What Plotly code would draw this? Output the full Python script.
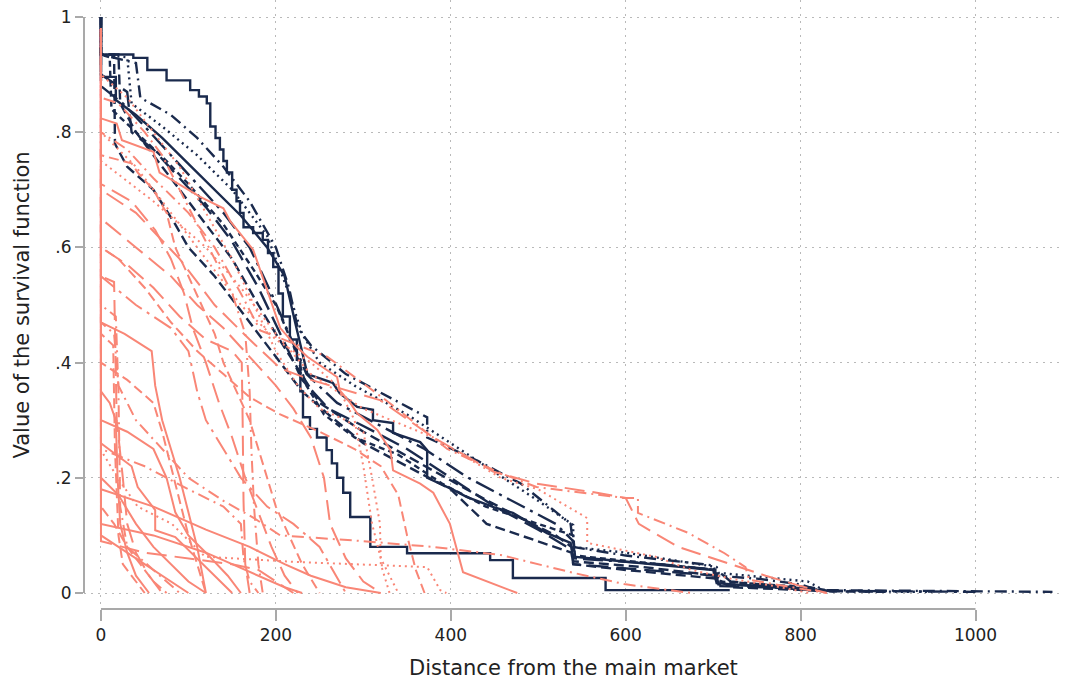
import plotly.graph_objects as go

# ---------------- data ----------------
NAVY = "#1a2a4d"
SALMON = "#f98676"

x_ticks = [0, 200, 400, 600, 800, 1000]
y_ticks = [0, 0.2, 0.4, 0.6, 0.8, 1.0]
y_ticklabels = ["0", ".2", ".4", ".6", ".8", "1"]

# navy group
n1_x = [0, 0, 22, 37, 53, 75, 94, 102, 112, 121, 125, 131, 136, 140, 144, 150, 155, 159, 163, 174, 185, 191, 197, 203, 208, 216, 224, 228, 231, 239, 247, 258, 264, 270, 277, 285, 308, 308, 350, 445, 471, 471, 577, 577, 719]
n1_y = [1, 0.935, 0.935, 0.929, 0.908, 0.89, 0.89, 0.873, 0.862, 0.85, 0.81, 0.79, 0.77, 0.75, 0.73, 0.70, 0.68, 0.66, 0.635, 0.625, 0.613, 0.59, 0.566, 0.52, 0.48, 0.44, 0.405, 0.35, 0.305, 0.285, 0.27, 0.248, 0.225, 0.2, 0.174, 0.132, 0.12, 0.08, 0.069, 0.057, 0.052, 0.026, 0.026, 0.005, 0.005]

n2_x = [0, 0, 17, 17, 40, 70, 100, 130, 160, 190, 210, 222, 230, 236, 265, 273, 293, 311, 311, 334, 334, 365, 373, 373, 403, 418, 449, 471, 510, 537, 540, 620, 700, 704, 780, 830]
n2_y = [1, 0.896, 0.896, 0.856, 0.83, 0.79, 0.745, 0.70, 0.655, 0.60, 0.55, 0.47, 0.42, 0.38, 0.365, 0.347, 0.323, 0.318, 0.30, 0.295, 0.278, 0.262, 0.248, 0.20, 0.179, 0.167, 0.149, 0.139, 0.104, 0.087, 0.063, 0.052, 0.04, 0.017, 0.009, 0.003]

n3_x = [0, 0, 20, 22, 40, 60, 90, 120, 150, 180, 200, 225, 250, 300, 370, 430, 480, 520, 538, 540, 620, 704, 706, 800, 830, 900]
n3_y = [1, 0.935, 0.935, 0.85, 0.80, 0.76, 0.70, 0.64, 0.58, 0.50, 0.45, 0.39, 0.33, 0.28, 0.22, 0.17, 0.13, 0.10, 0.08, 0.055, 0.045, 0.03, 0.015, 0.01, 0.003, 0.002]

n4_x = [0, 0, 40, 45, 80, 110, 140, 170, 200, 215, 225, 240, 280, 330, 373, 373, 430, 480, 537, 540, 600, 700, 704, 750, 800, 820, 1088]
n4_y = [1, 0.935, 0.92, 0.86, 0.83, 0.79, 0.74, 0.68, 0.60, 0.53, 0.46, 0.43, 0.38, 0.34, 0.305, 0.27, 0.23, 0.19, 0.12, 0.08, 0.065, 0.048, 0.03, 0.025, 0.015, 0.005, 0.002]

n5_x = [0, 0, 30, 35, 70, 110, 150, 190, 215, 230, 250, 290, 350, 400, 450, 500, 540, 540, 600, 704, 706, 808, 829, 950]
n5_y = [1, 0.935, 0.93, 0.85, 0.81, 0.76, 0.70, 0.62, 0.52, 0.45, 0.40, 0.36, 0.31, 0.26, 0.21, 0.16, 0.118, 0.08, 0.07, 0.045, 0.035, 0.02, 0.003, 0.002]

n6_x = [0, 0, 30, 35, 60, 90, 120, 150, 180, 205, 230, 260, 300, 350, 400, 450, 500, 538, 540, 620, 704, 706, 800, 830]
n6_y = [1, 0.90, 0.87, 0.80, 0.77, 0.72, 0.67, 0.61, 0.53, 0.45, 0.37, 0.32, 0.29, 0.25, 0.20, 0.15, 0.11, 0.075, 0.05, 0.04, 0.03, 0.012, 0.008, 0.002]

n7_x = [0, 0, 15, 16, 30, 60, 85, 100, 130, 160, 185, 200, 230, 260, 300, 350, 400, 441, 480, 538, 540, 600, 704, 720, 840]
n7_y = [1, 0.935, 0.935, 0.78, 0.74, 0.70, 0.64, 0.60, 0.55, 0.49, 0.44, 0.41, 0.35, 0.31, 0.26, 0.22, 0.18, 0.12, 0.10, 0.07, 0.05, 0.04, 0.025, 0.01, 0.003]

n8_x = [0, 0, 25, 50, 80, 110, 140, 170, 195, 215, 235, 270, 320, 370, 420, 470, 520, 540, 542, 640, 704, 720, 830, 1000]
n8_y = [1, 0.88, 0.85, 0.81, 0.76, 0.71, 0.66, 0.60, 0.52, 0.45, 0.38, 0.33, 0.29, 0.25, 0.20, 0.16, 0.12, 0.09, 0.06, 0.05, 0.04, 0.02, 0.004, 0.002]

n9_x = [0, 0, 10, 12, 40, 75, 100, 140, 175, 200, 220, 235, 255, 290, 340, 390, 440, 500, 540, 542, 640, 704, 706, 810, 840]
n9_y = [1, 0.935, 0.93, 0.84, 0.80, 0.75, 0.71, 0.64, 0.56, 0.50, 0.43, 0.36, 0.31, 0.27, 0.24, 0.19, 0.15, 0.12, 0.10, 0.065, 0.05, 0.04, 0.02, 0.01, 0.002]

# dash patterns (Stata-like)
SOLID = "solid"
DASH = "10px,5px"
LONGDASH = "20px,8px"
DOT = "2px,4px"
DASHDOT = "12px,5px,2px,5px"
LONGDASHDOT = "20px,6px,3px,6px"
SHORTDASH = "6px,4px"

navy_series = [
    (SOLID, "hv", n1_x, n1_y),
    (SOLID, "linear", n2_x, n2_y),
    (DASH, "linear", n3_x, n3_y),
    (DASHDOT, "linear", n4_x, n4_y),
    (DOT, "linear", n5_x, n5_y),
    (LONGDASH, "linear", n6_x, n6_y),
    (DASH, "linear", n7_x, n7_y),
    (LONGDASHDOT, "linear", n8_x, n8_y),
    (SHORTDASH, "linear", n9_x, n9_y),
]

# salmon group
s1_x = [0, 0, 18, 24, 60, 67, 113, 140, 148, 174, 205, 224, 236, 270, 273, 285, 293, 316, 331, 334, 365, 380, 399, 407, 414, 476]
s1_y = [0.98, 0.824, 0.815, 0.786, 0.766, 0.73, 0.688, 0.668, 0.645, 0.596, 0.46, 0.427, 0.41, 0.375, 0.352, 0.33, 0.312, 0.283, 0.248, 0.213, 0.19, 0.174, 0.12, 0.075, 0.036, 0.0]

s2_x = [0, 0, 30, 60, 100, 130, 160, 182, 259, 330, 396, 457, 498, 598, 614, 614, 672, 713, 737, 741, 790, 830]
s2_y = [0.98, 0.80, 0.77, 0.72, 0.66, 0.60, 0.52, 0.456, 0.41, 0.33, 0.25, 0.208, 0.184, 0.165, 0.165, 0.139, 0.104, 0.069, 0.045, 0.023, 0.01, 0.0]

s3_x = [0, 0, 40, 90, 130, 170, 205, 240, 319, 380, 450, 498, 567, 600, 615, 660, 720, 760, 800, 830]
s3_y = [0.98, 0.70, 0.66, 0.58, 0.50, 0.44, 0.39, 0.37, 0.335, 0.27, 0.21, 0.19, 0.174, 0.165, 0.12, 0.08, 0.05, 0.03, 0.012, 0.0]

s4_x = [0, 0, 60, 120, 160, 200, 240, 300, 380, 457, 500, 556, 556, 634, 675, 720, 770, 810]
s4_y = [0.98, 0.75, 0.68, 0.60, 0.53, 0.45, 0.38, 0.32, 0.27, 0.20, 0.18, 0.13, 0.087, 0.063, 0.04, 0.025, 0.012, 0.0]

s5_x = [0, 0, 20, 50, 80, 110, 140, 170, 205, 250, 290, 320, 340, 350, 360, 370]
s5_y = [0.98, 0.60, 0.58, 0.53, 0.47, 0.42, 0.38, 0.34, 0.31, 0.28, 0.25, 0.22, 0.17, 0.10, 0.04, 0.0]

s6_x = [0, 0, 15, 20, 40, 70, 100, 140, 175, 205, 300, 380, 457, 540, 600, 675]
s6_y = [0.98, 0.47, 0.45, 0.36, 0.30, 0.25, 0.20, 0.16, 0.13, 0.10, 0.09, 0.08, 0.066, 0.035, 0.015, 0.0]

s7_x = [0, 0, 19, 42, 81, 119, 222, 373, 388, 395]
s7_y = [0.98, 0.248, 0.20, 0.15, 0.12, 0.063, 0.054, 0.045, 0.005, 0.0]

s8_x = [0, 0, 35, 42, 62, 62, 85, 110, 130, 150]
s8_y = [0.98, 0.26, 0.22, 0.184, 0.144, 0.109, 0.097, 0.06, 0.03, 0.0]

s9_x = [0, 0, 15, 18, 25, 30, 40, 55, 70]
s9_y = [0.98, 0.55, 0.54, 0.30, 0.20, 0.12, 0.07, 0.03, 0.0]

s10_x = [0, 0, 17, 20, 22, 30, 60, 90]
s10_y = [0.98, 0.50, 0.48, 0.35, 0.15, 0.08, 0.04, 0.0]

s11_x = [0, 0, 14, 16, 20, 25, 40, 50]
s11_y = [0.98, 0.45, 0.43, 0.25, 0.10, 0.05, 0.02, 0.0]

s12_x = [0, 0, 27, 58, 62, 70, 80, 90, 100, 110, 120]
s12_y = [0.98, 0.47, 0.45, 0.42, 0.36, 0.30, 0.25, 0.20, 0.14, 0.08, 0.0]

s13_x = [0, 0, 35, 62, 80, 95, 105, 120, 135, 150, 165, 180, 195, 210, 225]
s13_y = [0.98, 0.71, 0.68, 0.63, 0.58, 0.52, 0.46, 0.40, 0.33, 0.27, 0.20, 0.14, 0.08, 0.03, 0.0]

s14_x = [0, 0, 35, 42, 60, 75, 85, 100, 115, 130, 140, 155, 170, 180, 190, 200, 215, 230, 250]
s14_y = [0.98, 0.76, 0.746, 0.73, 0.70, 0.66, 0.60, 0.55, 0.50, 0.45, 0.40, 0.35, 0.30, 0.25, 0.20, 0.15, 0.10, 0.05, 0.0]

s15_x = [0, 0, 30, 60, 90, 120, 150, 175, 200, 225, 250, 280, 300, 310, 319, 320, 330]
s15_y = [0.98, 0.90, 0.86, 0.80, 0.74, 0.66, 0.58, 0.50, 0.42, 0.36, 0.32, 0.30, 0.28, 0.20, 0.12, 0.05, 0.0]

s16_x = [0, 0, 20, 50, 70, 90, 110, 130, 150, 165, 170, 172, 175, 180, 185]
s16_y = [0.98, 0.86, 0.85, 0.80, 0.76, 0.70, 0.64, 0.58, 0.52, 0.45, 0.35, 0.25, 0.15, 0.05, 0.0]

s17_x = [0, 0, 30, 60, 90, 120, 150, 161, 162, 163, 165, 170]
s17_y = [0.98, 0.60, 0.57, 0.53, 0.48, 0.44, 0.42, 0.40, 0.30, 0.16, 0.05, 0.0]

s18_x = [0, 0, 10, 17, 19, 22, 30, 40, 55]
s18_y = [0.98, 0.35, 0.33, 0.30, 0.20, 0.12, 0.07, 0.03, 0.0]

s19_x = [0, 0, 30, 60, 70, 80, 90, 100, 110, 120]
s19_y = [0.98, 0.40, 0.37, 0.33, 0.28, 0.22, 0.16, 0.10, 0.05, 0.0]

s20_x = [0, 0, 40, 80, 100, 110, 120, 140, 160, 190, 220, 250, 265, 280]
s20_y = [0.98, 0.55, 0.50, 0.46, 0.42, 0.35, 0.30, 0.25, 0.20, 0.15, 0.12, 0.08, 0.04, 0.0]

s21_x = [0, 0, 30, 60, 75, 85, 100, 120, 145, 160]
s21_y = [0.98, 0.30, 0.28, 0.25, 0.20, 0.14, 0.10, 0.07, 0.03, 0.0]

s22_x = [0, 0, 40, 80, 110, 140, 170, 200, 220, 240, 255, 262, 280, 300, 320]
s22_y = [0.98, 0.65, 0.60, 0.55, 0.50, 0.46, 0.41, 0.36, 0.32, 0.27, 0.20, 0.12, 0.06, 0.02, 0.0]

s23_x = [0, 0, 40, 80, 120, 160, 200, 240, 270, 290, 300, 310, 320, 340]
s23_y = [0.98, 0.80, 0.74, 0.66, 0.58, 0.50, 0.44, 0.40, 0.36, 0.30, 0.22, 0.12, 0.06, 0.0]

s24_x = [0, 0, 20, 40, 60, 80, 100, 120]
s24_y = [0.98, 0.20, 0.17, 0.12, 0.08, 0.05, 0.02, 0.0]

s25_x = [0, 0, 15, 30, 45, 60, 75]
s25_y = [0.98, 0.15, 0.12, 0.08, 0.05, 0.02, 0.0]

s26_x = [0, 0, 20, 40, 60, 80, 100]
s26_y = [0.98, 0.10, 0.08, 0.06, 0.04, 0.02, 0.0]

s27_x = [0, 0, 60, 120, 150, 180, 210, 230]
s27_y = [0.98, 0.12, 0.10, 0.07, 0.05, 0.03, 0.01, 0.0]

s28_x = [0, 0, 50, 100, 140, 160, 163, 170, 180]
s28_y = [0.98, 0.25, 0.22, 0.18, 0.15, 0.12, 0.06, 0.02, 0.0]

s29_x = [0, 0, 60, 120, 170, 210, 240, 280, 320]
s29_y = [0.98, 0.18, 0.15, 0.11, 0.08, 0.05, 0.03, 0.01, 0.0]

s30_x = [0, 0, 50, 100, 150, 180, 200, 220]
s30_y = [0.98, 0.09, 0.07, 0.06, 0.05, 0.04, 0.02, 0.0]

salmon_series = [
    (SOLID, s1_x, s1_y),
    (DASHDOT, s2_x, s2_y),
    (LONGDASH, s3_x, s3_y),
    (DOT, s4_x, s4_y),
    (DASH, s5_x, s5_y),
    (DASHDOT, s6_x, s6_y),
    (DOT, s7_x, s7_y),
    (SOLID, s8_x, s8_y),
    (LONGDASH, s9_x, s9_y),
    (DASHDOT, s10_x, s10_y),
    (DASH, s11_x, s11_y),
    (SOLID, s12_x, s12_y),
    (LONGDASH, s13_x, s13_y),
    (DASH, s14_x, s14_y),
    (DOT, s15_x, s15_y),
    (DASHDOT, s16_x, s16_y),
    (LONGDASH, s17_x, s17_y),
    (SOLID, s18_x, s18_y),
    (DASH, s19_x, s19_y),
    (LONGDASHDOT, s20_x, s20_y),
    (SOLID, s21_x, s21_y),
    (LONGDASH, s22_x, s22_y),
    (DOT, s23_x, s23_y),
    (SOLID, s24_x, s24_y),
    (DASH, s25_x, s25_y),
    (SOLID, s26_x, s26_y),
    (SOLID, s27_x, s27_y),
    (DASHDOT, s28_x, s28_y),
    (SOLID, s29_x, s29_y),
    (LONGDASH, s30_x, s30_y),
]

# ---------------- figure ----------------
fig = go.Figure()

for dash, shape, xs, ys in navy_series:
    fig.add_trace(go.Scatter(x=xs, y=ys, mode="lines",
                             line=dict(color=NAVY, width=2.4, dash=dash, shape=shape),
                             showlegend=False, hoverinfo="skip"))

for dash, xs, ys in salmon_series:
    fig.add_trace(go.Scatter(x=xs, y=ys, mode="lines",
                             line=dict(color=SALMON, width=2.0, dash=dash),
                             showlegend=False, hoverinfo="skip"))

AXIS_GRAY = "#a9a9a9"
GRID = "#b9b9b9"
GRIDDASH = "1.5px,5.5px"
FONT = "DejaVu Sans"
TXT = "#222222"

fig.update_layout(
    width=1065, height=684,
    margin=dict(l=84, r=3, t=0, b=75),
    paper_bgcolor="white", plot_bgcolor="white",
    font=dict(family=FONT, color=TXT),
    xaxis=dict(range=[-19.4, 1098.9], tickvals=x_ticks,
               ticktext=[str(v) for v in x_ticks],
               showgrid=True, gridcolor=GRID, griddash=GRIDDASH, gridwidth=1.3,
               zeroline=False, showline=False,
               ticks="outside", ticklen=11, tickwidth=2, tickcolor=AXIS_GRAY,
               tickfont=dict(size=17, family=FONT, color=TXT)),
    yaxis=dict(range=[-0.02778, 1.02951], tickvals=y_ticks, ticktext=y_ticklabels,
               showgrid=True, gridcolor=GRID, griddash=GRIDDASH, gridwidth=1.3,
               zeroline=False, showline=False,
               ticks="outside", ticklen=8, tickwidth=2, tickcolor=AXIS_GRAY,
               tickfont=dict(size=17, family=FONT, color=TXT)),
    shapes=[
        dict(type="line", xref="x", yref="paper", x0=0, x1=1000, y0=0, y1=0,
             line=dict(color=AXIS_GRAY, width=2)),
        dict(type="line", xref="paper", yref="y", x0=0, x1=0, y0=0, y1=1,
             line=dict(color=AXIS_GRAY, width=2)),
    ],
    annotations=[
        dict(text="Distance from the main market", xref="paper", yref="paper",
             x=0.501, y=-0.097, xanchor="center", yanchor="middle", showarrow=False,
             font=dict(size=21, family=FONT, color=TXT)),
        dict(text="Value of the survival function", xref="paper", yref="paper",
             x=-0.0634, y=0.5, xanchor="center", yanchor="middle", showarrow=False,
             textangle=-90, font=dict(size=21, family=FONT, color=TXT)),
    ],
)

fig.write_html("out.html")
